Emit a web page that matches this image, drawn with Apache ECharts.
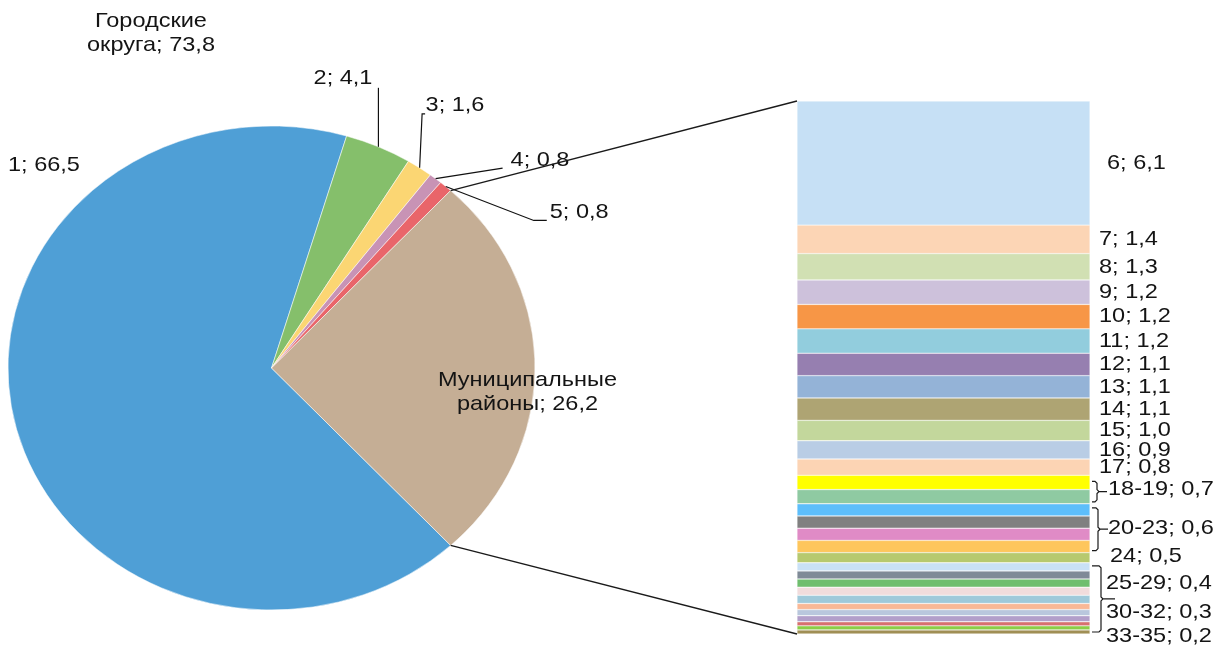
<!DOCTYPE html>
<html><head><meta charset="utf-8">
<script src="https://cdn.jsdelivr.net/npm/echarts@6/dist/echarts.min.js"></script>
<style>html,body{margin:0;padding:0;background:#fff}#c{width:1220px;height:648px}</style>
</head><body><div id="c"></div>
<script>
// ---------- data ----------
const pieNames = ['1', '2', '3', '4', '5', 'Муниципальные\nрайоны'];
const pieValues = [66.5, 4.1, 1.6, 0.8, 0.8, 26.2];
const groupTitle = 'Городские\nокруга';
const barNames = ['6','7','8','9','10','11','12','13','14','15','16','17','18','19','20','21','22','23','24','25','26','27','28','29','30','31','32','33','34','35'];
const barValues = [6.1, 1.4, 1.3, 1.2, 1.2, 1.2, 1.1, 1.1, 1.1, 1.0, 0.9, 0.8, 0.7, 0.7, 0.6, 0.6, 0.6, 0.6, 0.5, 0.4, 0.4, 0.4, 0.4, 0.4, 0.3, 0.3, 0.3, 0.2, 0.2, 0.2];
const labelGroups = [['18','19'], ['20','23'], ['24','24'], ['25','29'], ['30','32'], ['33','35']];
const braceGroups = [['18','19'], ['20','23'], ['25','35']];

// ---------- styles ----------
const pieColors = ['#4f9fd6', '#85bf6b', '#fbd673', '#c893b5', '#e9656a', '#c5ae95'];
const barColors = ['#c6e0f5','#fcd5b5','#d1e0b3','#cdc1db','#f79646','#92cddd','#967fb0','#94b3d7','#aea473','#c3d79c',
  '#b9cde5','#fcd4b4','#ffff00','#8fcaa2','#5dbefb','#808080','#e08bc6','#fec65c','#b7c96f','#c9e1f6',
  '#7f8a97','#6fbe6e','#f1dcdc','#9fc9da','#f9b896','#b9c7dd','#b29fca','#d7706f','#8ccd48','#a08f55'];
const FONT = '"Liberation Sans", Arial, sans-serif';
const FS = 21;
const SX = 1.12;          // horizontal stretch of the text, as in the reference
const TXT = '#141414';
const fmt = v => v.toFixed(1).replace('.', ',');

// pie geometry (layout)
const CX = 271.5, CY = 368, RX = 263.5, RY = 242;
// bar grid layout
const BAR_LEFT = 797, BAR_TOP = 101, BAR_W = 293, BAR_H = 533;
const BAR_RIGHT = BAR_LEFT + BAR_W;

// label placement for pie slices (offsets from slice edge midpoint, or from centre)
const pieLabelLayout = [
  { rel: 'center', dx: -263.5, dy: -203, align: 'left' },
  { line: [[0, -59]], dx: -6, dy: -69, align: 'right' },
  { line: [[2.5, -54], [5.5, -54]], dx: 6, dy: -62.5, align: 'left' },
  { line: [[67, -10.5]], dx: 75, dy: -18.5, align: 'left' },
  { line: [[88, 34], [101, 34]], dx: 104, dy: 25.7, align: 'left' },
  { rel: 'center', dx: 256, dy: 24, align: 'center' }
];
const groupLabelStyle = [ {dx: 18, dy: 0}, {dx: 18, dy: 0}, {dx: 20, dy: -2}, {dx: 16, dy: 0}, {dx: 16, dy: 0}, {dx: 16, dy: 8} ];
const braceStyle = [ {inTop: 6, inBot: 2, xv: 7, xt: 17}, {inTop: 4, inBot: 2, xv: 8, xt: 18}, {inTop: 3, inBot: 2, xv: 11, xt: 25} ];

// ---------- derived ----------
const pieTotal = pieValues.reduce((a, b) => a + b, 0);
const otherIdx = pieValues.length - 1;
const startDeg = pieValues[otherIdx] / pieTotal * 180;
const pieCum = []; { let a = 0; pieValues.forEach(v => { pieCum.push(a); a += v; }); }
const angleAt = s => (startDeg + s / pieTotal * 360) * Math.PI / 180;
const ptAt = a => [CX + RX * Math.cos(a), CY + RY * Math.sin(a)];

const barTotal = barValues.reduce((a, b) => a + b, 0);
const barCum = []; { let a = 0; barValues.forEach(v => { barCum.push(a); a += v; }); }
const idxOf = n => barNames.indexOf(n);
const grouped = new Set();
labelGroups.forEach(g => { for (let k = idxOf(g[0]); k <= idxOf(g[1]); k++) grouped.add(k); });

function textEl(x, y, text, align, extra) {
  return Object.assign({
    type: 'text', x: x, y: y, scaleX: SX,
    style: { text: text, fill: TXT, fontSize: FS, fontFamily: FONT, align: align, verticalAlign: 'middle', lineHeight: 24 }
  }, extra || {});
}

const chart = echarts.init(document.getElementById('c'), null, { renderer: 'canvas' });

const option = {
  animation: false,
  backgroundColor: '#fff',
  grid: { left: BAR_LEFT, top: BAR_TOP, width: BAR_W, height: BAR_H, containLabel: false, outerBoundsMode: 'none' },
  xAxis: { type: 'category', data: ['m'], show: false, boundaryGap: true },
  yAxis: { type: 'value', min: 0, max: barTotal, inverse: true, show: false, splitLine: { show: false } },
  series: [
    {
      type: 'custom',
      coordinateSystem: 'none',
      silent: true,
      data: pieValues.map((v, i) => ({ value: v, name: pieNames[i] })),
      renderItem: function (params, api) {
        const i = params.dataIndex;
        const v = api.value(0);
        const a0 = angleAt(pieCum[i]), a1 = angleAt(pieCum[i] + v);
        const p = ptAt((a0 + a1) / 2);
        const L = pieLabelLayout[i];
        const children = [{
          type: 'sector',
          shape: { cx: CX, cy: CY, r: RY, r0: 0, startAngle: a0, endAngle: a1, clockwise: true },
          originX: CX, originY: CY, scaleX: RX / RY,
          style: { fill: pieColors[i], stroke: '#ffffff', lineWidth: 0.5 }
        }];
        if (L.line) {
          children.push({
            type: 'polyline', z2: 20,
            shape: { points: [p].concat(L.line.map(q => [p[0] + q[0], p[1] + q[1]])) },
            style: { stroke: '#111', lineWidth: 1.2, fill: null }
          });
        }
        const base = L.rel === 'center' ? [CX, CY] : p;
        children.push(textEl(base[0] + L.dx, base[1] + L.dy, pieNames[i] + '; ' + fmt(v), L.align, { z2: 20 }));
        return { type: 'group', children: children };
      }
    }
  ].concat(barNames.map((n, i) => ({
    type: 'bar', name: n, stack: 'm', data: [barValues[i]], barWidth: '100%', silent: true,
    itemStyle: { color: barColors[i], borderColor: '#ffffff', borderWidth: 0.4 },
    label: { show: false }
  })))
};
chart.setOption(option);

// ---------- decorations derived from scales ----------
const yPix = v => chart.convertToPixel({ yAxisIndex: 0 }, v);
const segTop = i => yPix(barCum[i]);
const segBot = i => yPix(barCum[i] + barValues[i]);
const graphics = [];

// connector lines from the "other" slice to the stacked bar
const pT = ptAt(angleAt(pieCum[otherIdx])), pB = ptAt(angleAt(pieTotal));
graphics.push({ type: 'line', shape: { x1: pT[0], y1: pT[1], x2: BAR_LEFT, y2: segTop(0) }, style: { stroke: '#1a1a1a', lineWidth: 1.3 }, z: 50 });
graphics.push({ type: 'line', shape: { x1: pB[0], y1: pB[1], x2: BAR_LEFT, y2: segBot(barValues.length - 1) }, style: { stroke: '#1a1a1a', lineWidth: 1.3 }, z: 50 });

// group title above the pie
const cityTotal = pieValues.slice(0, otherIdx).reduce((a, b) => a + b, 0);
graphics.push(textEl(CX - 120.5, CY - 335, groupTitle + '; ' + fmt(cityTotal), 'center', { z: 50 }));

// individual bar labels
barNames.forEach((n, i) => {
  if (grouped.has(i)) return;
  const ym = (segTop(i) + segBot(i)) / 2;
  graphics.push(textEl(BAR_RIGHT + (i === 0 ? 17 : 9), ym, n + '; ' + fmt(barValues[i]), 'left', { z: 50 }));
});

// grouped labels
labelGroups.forEach((g, k) => {
  const a = idxOf(g[0]), b = idxOf(g[1]);
  const ym = (segTop(a) + segBot(b)) / 2 + groupLabelStyle[k].dy;
  const name = g[0] === g[1] ? g[0] : g[0] + '-' + g[1];
  graphics.push(textEl(BAR_RIGHT + groupLabelStyle[k].dx, ym, name + '; ' + fmt(barValues[a]), 'left', { z: 50 }));
});

// braces
braceGroups.forEach((g, k) => {
  const s = braceStyle[k];
  const y0 = segTop(idxOf(g[0])) + s.inTop, y1 = segBot(idxOf(g[1])) - s.inBot, ym = (y0 + y1) / 2;
  const xl = BAR_RIGHT + 2, xv = BAR_RIGHT + s.xv, xt = BAR_RIGHT + s.xt;
  graphics.push({ type: 'polyline', z: 50,
    shape: { points: [[xl, y0], [xv - 2, y0], [xv, y0 + 2], [xv, ym - 2], [xv + 2, ym], [xt, ym], [xv + 2, ym], [xv, ym + 2], [xv, y1 - 2], [xv - 2, y1], [xl, y1]] },
    style: { stroke: '#1a1a1a', lineWidth: 1.2, fill: null } });
});

chart.setOption({ graphic: { elements: graphics } });
</script>
</body></html>
